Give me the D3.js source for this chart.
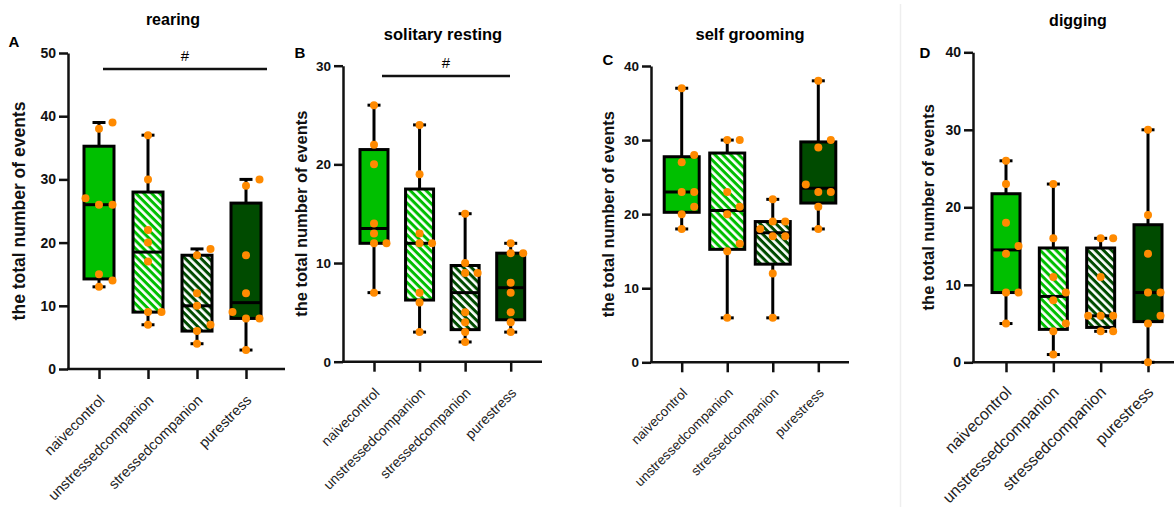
<!DOCTYPE html>
<html>
<head>
<meta charset="utf-8">
<script src="https://cdn.jsdelivr.net/npm/d3@7"></script>
<style>
  body { margin: 0; background: #fff; }
  svg { display: block; font-family: 'Liberation Sans', Arial, sans-serif; }
</style>
</head>
<body>
<div id="chart"></div>
<script>
'use strict';

// group names and panel headings
var categories = [ 'naivecontrol', 'unstressedcompanion', 'stressedcompanion', 'purestress' ];
var titles = [ 'rearing', 'solitary resting', 'self grooming', 'digging' ];
var letters = [ 'A', 'B', 'C', 'D' ];
var yMaxes = [ 50, 30, 40, 40 ];
var yTicks = [ [ 0, 10, 20, 30, 40, 50 ], [ 0, 10, 20, 30 ], [ 0, 10, 20, 30, 40 ], [ 0, 10, 20, 30, 40 ] ];

// individual animals, one list per group
var rearingPoints = [ [ 39, 38, 27, 26, 26, 15, 14, 13 ], [ 37, 30, 22, 20, 17, 9, 9, 7 ],
  [ 19, 18, 12, 10, 7, 6, 4 ], [ 30, 29, 18, 12, 9, 8, 8, 3 ] ];
var restingPoints = [ [ 26, 22, 20, 14, 13, 12, 12, 7 ], [ 24, 19, 13, 12, 12, 7, 6, 3 ],
  [ 15, 10, 9, 9, 5, 4, 3, 2 ], [ 12, 11, 11, 8, 7, 5, 4, 3 ] ];
var groomingPoints = [ [ 37, 28, 27, 23, 23, 21, 20, 18 ], [ 30, 30, 23, 21, 20, 16, 15, 6 ],
  [ 22, 19, 19, 18, 17, 17, 12, 6 ], [ 38, 30, 29, 24, 23, 23, 21, 18 ] ];
var diggingPoints = [ [ 26, 23, 18, 15, 14, 9, 9, 5 ], [ 23, 16, 11, 9, 8, 5, 4, 1 ],
  [ 16, 16, 11, 6, 6, 6, 4, 4 ], [ 30, 19, 14, 9, 9, 6, 5, 0 ] ];

// box stats: min, q1, median, q3, max
var rearingBoxes = [ [ 13, 14.25, 26, 35.25, 39 ], [ 7, 9, 18.5, 28, 37 ],
  [ 4, 6, 10, 18, 19 ], [ 3, 8, 10.5, 26.25, 30 ] ];
var restingBoxes = [ [ 7, 12, 13.5, 21.5, 26 ], [ 3, 6.25, 12, 17.5, 24 ],
  [ 2, 3.25, 7, 9.75, 15 ], [ 3, 4.25, 7.5, 11, 12 ] ];
var groomingBoxes = [ [ 18, 20.25, 23, 27.75, 37 ], [ 6, 15.25, 20.5, 28.25, 30 ],
  [ 6, 13.25, 17.5, 19, 22 ], [ 18, 21.5, 23.5, 29.75, 38 ] ];
var diggingBoxes = [ [ 5, 9, 14.5, 21.75, 26 ], [ 1, 4.25, 8.5, 14.75, 23 ],
  [ 4, 4.5, 6, 14.75, 16 ], [ 0, 5.25, 9, 17.75, 30 ] ];

var allPoints = [ rearingPoints, restingPoints, groomingPoints, diggingPoints ];
var allBoxes = [ rearingBoxes, restingBoxes, groomingBoxes, diggingBoxes ];

// layout of each panel (pixels)
var layout = [
  { left: 68, right: 285, top: 53, bottom: 369, first: 99, last: 246, boxW: 30, step: 13.5,
    tickFont: 14.5, tickDown: 32, yFont: 14, labelFont: 17.5, labelX: 19, titleX: 173, titleY: 25, titleFont: 16,
    letterX: 14, letterY: 47, sig: { x1: 103, x2: 267, y: 69 } },
  { left: 343, right: 542, top: 65.7, bottom: 361.7, first: 374, last: 510.7, boxW: 28, step: 12.5,
    tickFont: 14, tickDown: 32, yFont: 13.5, labelFont: 16.5, labelX: 301, titleX: 443, titleY: 40, titleFont: 16.5,
    letterX: 300, letterY: 58, sig: { x1: 382, x2: 510, y: 76 } },
  { left: 651, right: 849, top: 66, bottom: 362.3, first: 681.7, last: 818.3, boxW: 35, step: 12.5,
    tickFont: 13.5, tickDown: 31.5, yFont: 13.5, labelFont: 16.5, labelX: 608, titleX: 750, titleY: 40, titleFont: 16.5,
    letterX: 608, letterY: 65, sig: null },
  { left: 973, right: 1176, top: 52.3, bottom: 362.3, first: 1006, last: 1148, boxW: 28, step: 12.5,
    tickFont: 16, tickDown: 31, yFont: 14, labelFont: 16.5, labelX: 928, titleX: 1078, titleY: 26, titleFont: 16,
    letterX: 925, letterY: 58, sig: null }
];

var fills = [ '#00bf00', 'url(#hatchLight)', 'url(#hatchDark)', '#004b00' ];

var svg = d3.select( '#chart' )
  .append( 'svg' )
    .attr( 'width', 1174 )
    .attr( 'height', 507 );

// diagonal hatching
var defs = svg.append( 'defs' );
[ [ 'hatchLight', '#00bf00' ], [ 'hatchDark', '#004b00' ] ].forEach( function( h ) {
  var p = defs.append( 'pattern' )
      .attr( 'id', h[ 0 ] )
      .attr( 'patternUnits', 'userSpaceOnUse' )
      .attr( 'width', 5.6 )
      .attr( 'height', 5.6 )
      .attr( 'patternTransform', 'rotate(-45)' );
  p.append( 'rect' ).attr( 'width', 5.6 ).attr( 'height', 5.6 ).attr( 'fill', h[ 1 ] );
  p.append( 'rect' ).attr( 'width', 2.6 ).attr( 'height', 5.6 ).attr( 'fill', '#fff' );
} );

// faint frame line in front of panel D
svg.append( 'line' )
    .attr( 'x1', 900.5 ).attr( 'x2', 900.5 )
    .attr( 'y1', 4 ).attr( 'y2', 507 )
    .style( 'stroke', '#eeeeee' )
    .attr( 'stroke-width', 1.5 );

// spread equal values sideways like a scatter
function spread( values, y, step ) {
  var placed = [];
  values.slice().sort( d3.ascending ).forEach( function( v ) {
    var cy = y( v ), offsets = [ 0, step, -step ], dx = 0;
    for ( var k = 0; k < offsets.length; k++ ) {
      var hit = placed.some( function( p ) {
        return Math.abs( p.dx - offsets[ k ] ) < 1 && Math.abs( p.cy - cy ) < 8.5;
      } );
      if ( !hit ) { dx = offsets[ k ]; break; }
    }
    placed.push( { v: v, cy: cy, dx: dx } );
  } );
  return placed;
}

layout.forEach( function( L, pi ) {
  var g = svg.append( 'g' );

  var x = d3.scalePoint()
      .domain( categories )
      .range( [ L.first, L.last ] );

  var y = d3.scaleLinear()
      .domain( [ 0, yMaxes[ pi ] ] )
      .range( [ L.bottom, L.top ] );

  // title and panel letter
  g.append( 'text' )
      .attr( 'x', L.titleX )
      .attr( 'y', L.titleY )
      .attr( 'text-anchor', 'middle' )
      .style( 'font-size', L.titleFont + 'px' )
      .style( 'font-weight', 'bold' )
      .text( titles[ pi ] );

  g.append( 'text' )
      .attr( 'x', L.letterX )
      .attr( 'y', L.letterY )
      .attr( 'text-anchor', 'middle' )
      .style( 'font-size', '15px' )
      .style( 'font-weight', 'bold' )
      .text( letters[ pi ] );

  // y axis
  var yAxis = g.append( 'g' )
      .attr( 'transform', 'translate(' + L.left + ',0)' )
      .call( d3.axisLeft( y ).tickValues( yTicks[ pi ] ).tickSize( 9 ).tickSizeOuter( 0 ).tickPadding( 3 ) );
  yAxis.selectAll( 'path, line' ).style( 'stroke', '#111' ).attr( 'stroke-width', 2.5 );
  yAxis.selectAll( 'text' )
      .style( 'font-size', L.yFont + 'px' )
      .style( 'font-weight', 'bold' )
      .style( 'fill', '#111' );

  g.append( 'text' )
      .attr( 'transform', 'translate(' + L.labelX + ',' + ( L.top + L.bottom ) / 2 + ') rotate(-90)' )
      .attr( 'text-anchor', 'middle' )
      .attr( 'dy', '0.35em' )
      .style( 'font-size', L.labelFont + 'px' )
      .style( 'font-weight', 'bold' )
      .style( 'fill', '#111' )
      .text( 'the total number of events' );

  // x axis
  var xAxis = g.append( 'g' )
      .attr( 'transform', 'translate(0,' + L.bottom + ')' )
      .call( d3.axisBottom( x ).tickSize( 10 ).tickSizeOuter( 0 ) );
  xAxis.select( '.domain' ).remove();
  xAxis.selectAll( 'line' ).style( 'stroke', '#111' ).attr( 'stroke-width', 2.5 );
  xAxis.selectAll( 'text' )
      .attr( 'text-anchor', 'end' )
      .attr( 'x', 0 )
      .attr( 'y', 0 )
      .attr( 'dy', 0 )
      .attr( 'transform', 'translate(6,' + L.tickDown + ') rotate(-45)' )
      .style( 'font-size', L.tickFont + 'px' )
      .style( 'fill', '#222' );

  g.append( 'line' )
      .attr( 'x1', L.left - 1 )
      .attr( 'x2', L.right )
      .attr( 'y1', L.bottom )
      .attr( 'y2', L.bottom )
      .style( 'stroke', '#111' )
      .attr( 'stroke-width', 2.5 );

  // significance bar
  if ( L.sig ) {
    g.append( 'line' )
        .attr( 'x1', L.sig.x1 ).attr( 'x2', L.sig.x2 )
        .attr( 'y1', L.sig.y ).attr( 'y2', L.sig.y )
        .style( 'stroke', '#111' )
        .attr( 'stroke-width', 2.5 );
    g.append( 'text' )
        .attr( 'x', ( L.sig.x1 + L.sig.x2 ) / 2 )
        .attr( 'y', L.sig.y - 8 )
        .attr( 'text-anchor', 'middle' )
        .style( 'font-size', '15px' )
        .text( '#' );
  }

  // boxes
  var groups = g.selectAll( 'g.box' )
      .data( allBoxes[ pi ] )
    .enter().append( 'g' )
      .attr( 'class', 'box' );

  groups.append( 'line' )
      .attr( 'x1', function( d, i ) { return x( categories[ i ] ); } )
      .attr( 'x2', function( d, i ) { return x( categories[ i ] ); } )
      .attr( 'y1', function( d ) { return y( d[ 0 ] ); } )
      .attr( 'y2', function( d ) { return y( d[ 4 ] ); } )
      .style( 'stroke', '#000' )
      .attr( 'stroke-width', 3 );

  [ 0, 4 ].forEach( function( k ) {
    groups.append( 'line' )
        .attr( 'x1', function( d, i ) { return x( categories[ i ] ) - 6.5; } )
        .attr( 'x2', function( d, i ) { return x( categories[ i ] ) + 6.5; } )
        .attr( 'y1', function( d ) { return y( d[ k ] ); } )
        .attr( 'y2', function( d ) { return y( d[ k ] ); } )
        .style( 'stroke', '#000' )
        .attr( 'stroke-width', 3 );
  } );

  groups.append( 'rect' )
      .attr( 'x', function( d, i ) { return x( categories[ i ] ) - L.boxW / 2; } )
      .attr( 'width', L.boxW )
      .attr( 'y', function( d ) { return y( d[ 3 ] ); } )
      .attr( 'height', function( d ) { return y( d[ 1 ] ) - y( d[ 3 ] ); } )
      .attr( 'fill', function( d, i ) { return fills[ i ]; } )
      .style( 'stroke', '#000' )
      .attr( 'stroke-width', 3 );

  groups.append( 'line' )
      .attr( 'x1', function( d, i ) { return x( categories[ i ] ) - L.boxW / 2; } )
      .attr( 'x2', function( d, i ) { return x( categories[ i ] ) + L.boxW / 2; } )
      .attr( 'y1', function( d ) { return y( d[ 2 ] ); } )
      .attr( 'y2', function( d ) { return y( d[ 2 ] ); } )
      .style( 'stroke', '#000' )
      .attr( 'stroke-width', 3 );

  // dots
  allPoints[ pi ].forEach( function( vals, ci ) {
    var cx = x( categories[ ci ] );
    g.selectAll( null )
        .data( spread( vals, y, L.step ) )
      .enter().append( 'circle' )
        .attr( 'cx', function( d ) { return cx + d.dx; } )
        .attr( 'cy', function( d ) { return d.cy; } )
        .attr( 'r', 4 )
        .attr( 'fill', '#ff8a00' );
  } );
} );
</script>
</body>
</html>
